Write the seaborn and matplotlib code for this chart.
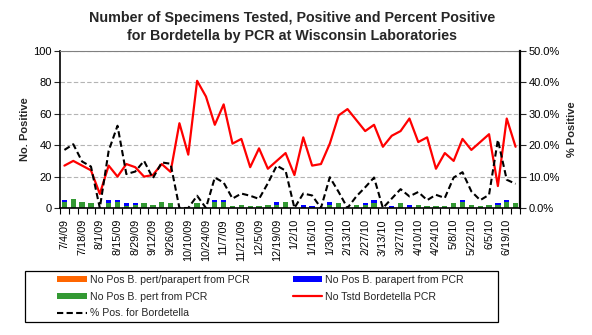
import numpy as np
import pandas as pd
import matplotlib
matplotlib.use("Agg")
import matplotlib.pyplot as plt
from matplotlib.patches import Patch, Rectangle
from matplotlib.lines import Line2D
from matplotlib.ticker import FixedLocator, FuncFormatter
import seaborn as sns

# Weekly reporting periods (week starting dates)
weeks = pd.date_range("2009-07-04", periods=52, freq="7D")
week_labels = [f"{d.month}/{d.day}/{d:%y}" for d in weeks]

# Number positive for B. pertussis
pos_pert = [4, 6, 4, 3, 0, 3, 4, 1, 2, 3, 2, 4, 3, 0, 0, 3, 0, 4, 4, 1,
            2, 1, 1, 2, 2, 4, 0, 0, 0, 0, 2, 3, 0, 2, 2, 3, 0, 0, 3, 0,
            2, 1, 1, 1, 3, 4, 2, 1, 2, 2, 4, 3]
# Number positive for B. parapertussis
pos_parapert = [1, 0, 0, 0, 0, 2, 1, 2, 1, 0, 0, 0, 0, 0, 0, 0, 0, 1, 1, 0,
                0, 0, 0, 0, 2, 0, 0, 2, 1, 0, 2, 0, 0, 0, 1, 2, 0, 1, 0, 2,
                0, 0, 0, 0, 0, 1, 0, 0, 0, 1, 1, 0]
# Number positive for pertussis/parapertussis (undifferentiated)
pos_both = [0] * 52
# Number of specimens tested
tested = [27, 30, 27, 24, 9, 27, 20, 28, 26, 20, 21, 28, 23, 54, 34, 81, 71, 53,
          66, 41, 44, 26, 38, 25, 30, 35, 21, 45, 27, 28, 41, 59, 63, 56, 49, 53,
          39, 46, 49, 57, 42, 45, 25, 35, 30, 44, 37, 42, 47, 14, 57, 39]
# Percent positive
pct_pos = [18.5, 20.3, 14.8, 13.2, 0, 18.2, 26.2, 10.8, 11.6, 15.0, 9.5, 14.5,
           14.1, 0, 0, 3.9, 0, 9.7, 8.1, 3.0, 4.6, 3.9, 2.9, 7.9, 13.5, 11.9,
           0, 4.6, 4.0, 0, 9.8, 5.1, 0, 3.7, 6.6, 9.7, 0, 3.0, 6.0, 3.7, 5.1,
           2.5, 4.2, 3.2, 9.7, 11.4, 5.3, 2.5, 4.2, 21.7, 9.0, 7.7]

C_ORANGE = "#FF6600"
C_BLUE = "#0000FF"
C_GREEN = "#339933"
C_RED = "#FF0000"
TXT = "#000000"
W, H = 592, 335

sns.set_style("white")
plt.rcParams["font.family"] = ["Liberation Sans", "DejaVu Sans"]

df = pd.DataFrame({
    "week": np.arange(len(week_labels)),
    "pert": pos_pert,
    "parapert": pos_parapert,
    "both": pos_both,
    "tested": tested,
    "pct": pct_pos,
})
df["stack2"] = df["pert"] + df["parapert"]
df["stack3"] = df["stack2"] + df["both"]

fig = plt.figure(figsize=(W / 100, H / 100), dpi=100)
ax = fig.add_axes([60 / W, 1 - 208 / H, 460 / W, 157 / H])

# Stacked bars: draw cumulative totals back to front
for col, colr in [("stack3", C_ORANGE), ("stack2", C_BLUE), ("pert", C_GREEN)]:
    sns.barplot(data=df, x="week", y=col, color=colr, saturation=1, width=0.6,
                linewidth=0, ax=ax, zorder=2)

sns.lineplot(data=df, x="week", y="tested", color=C_RED, linewidth=1.6, ax=ax,
             zorder=3)

ax.set_xlim(-0.5, len(week_labels) - 0.5)
ax.set_ylim(0, 100)
ax.set_yticks(range(0, 101, 20))
ax.yaxis.grid(True, color="#b4b4b4", linestyle=(0, (4, 2)), linewidth=0.8)
ax.set_axisbelow(True)

ax.set_xticks(df["week"][::2])
ax.set_xticklabels(week_labels[::2], rotation=90, fontsize=7.8, color=TXT)
ax.xaxis.set_minor_locator(FixedLocator(np.arange(-0.5, len(week_labels), 1)))
ax.tick_params(axis="x", which="major", length=0, pad=8)
ax.tick_params(axis="x", which="minor", length=4, width=0.8, color="black",
               direction="out", bottom=True)
ax.tick_params(axis="y", which="major", length=4, width=0.8, direction="out",
               left=True, labelsize=8, labelcolor=TXT, pad=2)
ax.set_xlabel("")
ax.set_ylabel("No. Positive", fontsize=8, fontweight="bold", labelpad=2)

for side in ["left", "bottom"]:
    ax.spines[side].set_color("black")
    ax.spines[side].set_linewidth(1.2)
ax.spines["top"].set_color("#808080")
ax.spines["top"].set_linewidth(0.8)
ax.spines["right"].set_visible(False)

ax2 = ax.twinx()
sns.lineplot(data=df, x="week", y="pct", color="black", linewidth=1.5, ax=ax2)
ax2.lines[0].set_dashes([3, 1.6])
ax2.set_ylim(0, 50)
ax2.set_xlim(-0.5, len(week_labels) - 0.5)
ax2.set_yticks(range(0, 51, 10))
ax2.yaxis.set_major_formatter(FuncFormatter(lambda v, p: f"{v:.1f}%"))
ax2.tick_params(axis="y", length=4, width=0.8, direction="out", right=True,
                labelsize=8, labelcolor=TXT, pad=2)
ax2.set_ylabel("% Positive", fontsize=8, fontweight="bold", labelpad=5)
for side in ["left", "bottom", "top"]:
    ax2.spines[side].set_visible(False)
ax2.spines["right"].set_color("black")
ax2.spines["right"].set_linewidth(1.6)
ax2.grid(False)

fig.text(292 / W, 1 - 27 / H,
         "Number of Specimens Tested, Positive and Percent Positive\n"
         "for Bordetella by PCR at Wisconsin Laboratories",
         ha="center", va="center", fontsize=10.3, fontweight="bold",
         linespacing=1.3)

# Legend box
fig.add_artist(Rectangle((25 / W, 1 - 322 / H), 473 / W, 51 / H,
                         transform=fig.transFigure, facecolor="white",
                         edgecolor="black", linewidth=0.9, zorder=1))

handles = [
    Patch(facecolor=C_ORANGE, edgecolor="none", label="No Pos B. pert/parapert from PCR"),
    Patch(facecolor=C_GREEN, edgecolor="none", label="No Pos B. pert from PCR"),
    Line2D([], [], color="black", linewidth=1.5, dashes=[3, 1.6], label="% Pos. for Bordetella"),
    Patch(facecolor=C_BLUE, edgecolor="none", label="No Pos B. parapert from PCR"),
    Line2D([], [], color=C_RED, linewidth=1.6, label="No Tstd Bordetella PCR"),
]
leg = fig.legend(handles=handles, ncol=2, loc="upper left",
                 bbox_to_anchor=(57 / W, 1 - 275 / H),
                 fontsize=7.6, frameon=False,
                 handlelength=2.8, handleheight=0.5, handletextpad=0.3,
                 labelspacing=0.62, columnspacing=4.1, borderpad=0,
                 borderaxespad=0)
leg.set_zorder(2)

fig.savefig("out.png", dpi=100, facecolor="white")
